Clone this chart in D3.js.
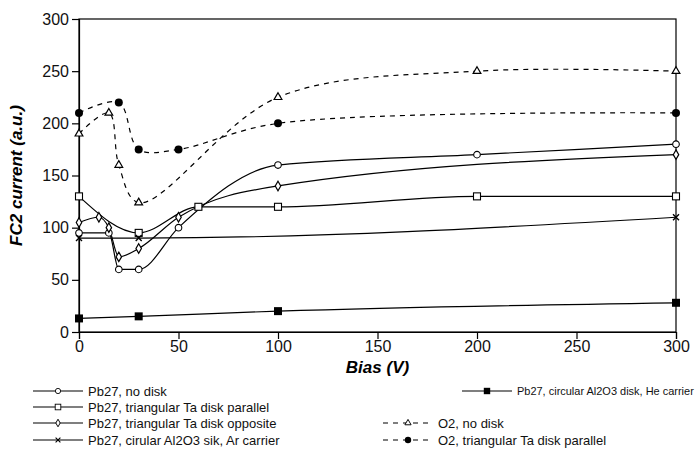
<!DOCTYPE html>
<html lang="en">
  <head>
    <meta charset="UTF-8" />
    <title>FC2 current vs bias</title>
    <script src="https://d3js.org/d3.v7.min.js"></script>
    <style>
      body {
        margin: 0;
        background: #fff;
      }
      svg {
        display: block;
        font-family: "Liberation Sans", Arial, sans-serif;
      }
      .axis text {
        font-size: 16px;
        fill: #111;
      }
      .legend text {
        font-size: 13px;
        fill: #111;
      }
    </style>
  </head>
  <body>
    <svg width="698" height="455"></svg>

    <script>
      // bias (V) ticks and FC2 current ticks
      const biasTicks = [0, 50, 100, 150, 200, 250, 300];
      const currentTicks = [0, 50, 100, 150, 200, 250, 300];

      // series values: [bias, current]
      const pbNoDisk = [[0, 95], [15, 95], [20, 60], [30, 60], [50, 100], [100, 160], [200, 170], [300, 180]];
      const pbTaParallel = [[0, 130], [30, 95], [60, 120], [100, 120], [200, 130], [300, 130]];
      const pbTaOpposite = [[0, 105], [10, 110], [15, 100], [20, 72], [30, 80], [50, 110], [100, 140], [300, 170]];
      const pbAlAr = [[0, 90], [30, 90], [300, 110]];
      const pbAlHe = [[0, 13], [30, 15], [100, 20], [300, 28]];
      const o2NoDisk = [[0, 190], [15, 210], [20, 160], [30, 124], [100, 225], [200, 250], [300, 250]];
      const o2TaParallel = [[0, 210], [20, 220], [30, 175], [50, 175], [100, 200], [300, 210]];

      const labels = [
        "Pb27, no disk",
        "Pb27, triangular Ta disk parallel",
        "Pb27, triangular Ta disk opposite",
        "Pb27, cirular Al2O3 sik, Ar carrier",
        "Pb27, circular Al2O3 disk, He carrier",
        "O2, no disk",
        "O2, triangular Ta disk parallel",
      ];

      const svg = d3.select("svg");
      const margin = { top: 19, right: 22, bottom: 123, left: 79 };
      const width = 698;
      const height = 455;

      const x = d3.scaleLinear().domain([0, 300]).range([margin.left, width - margin.right]);
      const y = d3.scaleLinear().domain([0, 300]).range([height - margin.bottom, margin.top]);

      // marker styles
      const markers = {
        circle: (g) => g.append("circle").attr("r", 3.3).attr("fill", "#fff").attr("stroke", "#000").attr("stroke-width", 1.1),
        square: (g) => g.append("rect").attr("x", -3.5).attr("y", -3.5).attr("width", 7).attr("height", 7).attr("fill", "#fff").attr("stroke", "#000").attr("stroke-width", 1.1),
        diamond: (g) => g.append("path").attr("d", d3.symbol(d3.symbolDiamond, 26)()).attr("fill", "#fff").attr("stroke", "#000").attr("stroke-width", 1.2),
        cross: (g) => g.append("path").attr("d", "M-3,-3L3,3M-3,3L3,-3").attr("stroke", "#000").attr("stroke-width", 1.4),
        fsquare: (g) => g.append("rect").attr("x", -4).attr("y", -4).attr("width", 8).attr("height", 8).attr("fill", "#000"),
        triangle: (g) => g.append("path").attr("d", d3.symbol(d3.symbolTriangle, 26)()).attr("fill", "#fff").attr("stroke", "#000").attr("stroke-width", 1.2),
        fcircle: (g) => g.append("circle").attr("r", 4).attr("fill", "#000"),
      };

      const series = [
        { values: pbNoDisk, label: labels[0], marker: "circle", dash: null },
        { values: pbTaParallel, label: labels[1], marker: "square", dash: null },
        { values: pbTaOpposite, label: labels[2], marker: "diamond", dash: null },
        { values: pbAlAr, label: labels[3], marker: "cross", dash: null },
        { values: pbAlHe, label: labels[4], marker: "fsquare", dash: null },
        { values: o2NoDisk, label: labels[5], marker: "triangle", dash: "5,5" },
        { values: o2TaParallel, label: labels[6], marker: "fcircle", dash: "5,5" },
      ];

      // frame
      svg
        .append("rect")
        .attr("x", x(0))
        .attr("y", y(300))
        .attr("width", x(300) - x(0))
        .attr("height", y(0) - y(300))
        .attr("fill", "none")
        .attr("stroke", "#000")
        .attr("stroke-width", 1.2);

      svg
        .append("g")
        .attr("class", "axis")
        .attr("transform", `translate(0,${y(0)})`)
        .call(d3.axisBottom(x).tickValues(biasTicks).tickSize(7).tickPadding(2));

      svg
        .append("g")
        .attr("class", "axis")
        .attr("transform", `translate(${x(0)},0)`)
        .call(d3.axisLeft(y).tickValues(currentTicks).tickSize(7).tickPadding(3));

      svg.selectAll(".axis .domain").attr("stroke", "#000").attr("stroke-width", 1.2);
      svg.selectAll(".axis .tick line").attr("stroke", "#000").attr("stroke-width", 1.2);

      svg
        .append("text")
        .attr("x", (x(0) + x(300)) / 2)
        .attr("y", 373)
        .attr("text-anchor", "middle")
        .attr("font-size", 17)
        .attr("font-weight", "bold")
        .attr("font-style", "italic")
        .text("Bias (V)");

      svg
        .append("text")
        .attr("transform", `translate(22,${(y(0) + y(300)) / 2}) rotate(-90)`)
        .attr("text-anchor", "middle")
        .attr("font-size", 17)
        .attr("font-weight", "bold")
        .attr("font-style", "italic")
        .text("FC2 current (a.u.)");

      // solid Pb27 curves stay monotone between points, the dashed O2 ones are looser
      const solidLine = d3
        .line()
        .x((d) => x(d[0]))
        .y((d) => y(d[1]))
        .curve(d3.curveMonotoneX);
      const dashedLine = d3
        .line()
        .x((d) => x(d[0]))
        .y((d) => y(d[1]))
        .curve(d3.curveCatmullRom.alpha(0.5));

      series.forEach((s) => {
        svg
          .append("path")
          .attr("d", (s.dash ? dashedLine : solidLine)(s.values))
          .attr("fill", "none")
          .attr("stroke", "#000")
          .attr("stroke-width", 1.2)
          .attr("stroke-dasharray", s.dash);
      });

      series.forEach((s) => {
        s.values.forEach((d) => {
          const g = svg.append("g").attr("transform", `translate(${x(d[0])},${y(d[1])})`);
          markers[s.marker](g);
        });
      });

      // legend
      const legendPos = [
        { x: 33, y: 391 },
        { x: 33, y: 407 },
        { x: 33, y: 423 },
        { x: 33, y: 440 },
        { x: 462, y: 391 },
        { x: 383, y: 423 },
        { x: 383, y: 440 },
      ];

      const legend = svg.append("g").attr("class", "legend");
      series.forEach((s, i) => {
        const p = legendPos[i];
        const item = legend.append("g").attr("transform", `translate(${p.x},${p.y})`);
        item
          .append("line")
          .attr("x1", 0)
          .attr("x2", 50)
          .attr("stroke", "#000")
          .attr("stroke-width", 1.1)
          .attr("stroke-dasharray", s.dash);
        const m = item.append("g").attr("transform", "translate(25,0) scale(0.8)");
        markers[s.marker](m);
        const t = item
          .append("text")
          .attr("x", 55)
          .attr("dy", "0.35em")
          .text(s.label);
        // shrink the long right-hand entry so it stays inside the picture
        const room = width - 4 - (p.x + 55);
        const len = t.node().getComputedTextLength();
        if (len > room) {
          t.style("font-size", (13 * room) / len + "px");
        }
      });
    </script>
  </body>
</html>
